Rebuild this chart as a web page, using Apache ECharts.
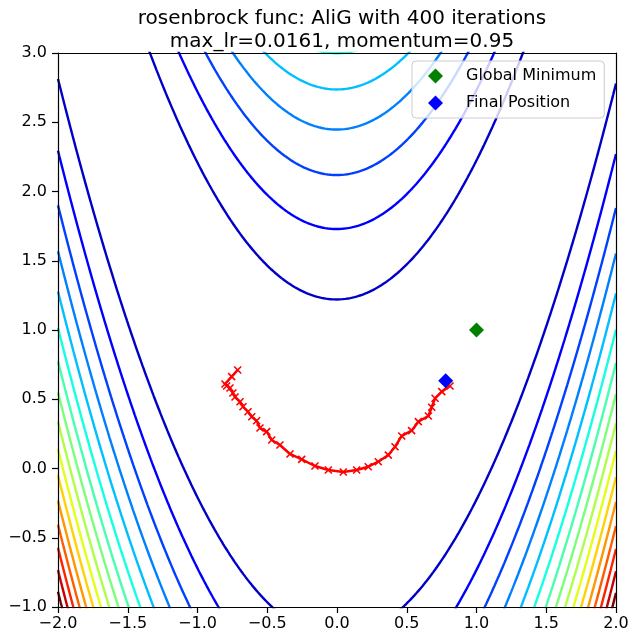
<!DOCTYPE html>
<html>
<head>
<meta charset="utf-8">
<script src="https://cdn.jsdelivr.net/npm/echarts@6/dist/echarts.min.js"></script>
<style>
  html, body { margin: 0; padding: 0; background: #fff; }
  #chart { width: 635px; height: 643px; }
</style>
</head>
<body>
<div id="chart"></div>
<script>
// contour levels of f(x, y) = (1 - x)^2 + 100 (y - x^2)^2
const levels = [150, 300, 450, 600, 750, 900, 1050, 1200, 1350, 1500, 1650, 1800, 1950, 2100, 2250, 2400];

// optimiser path
const pathX = [-0.712, -0.755, -0.803, -0.791, -0.767, -0.746, -0.731, -0.695, -0.674, -0.638, -0.611, -0.576,
  -0.552, -0.504, -0.468, -0.409, -0.337, -0.253, -0.158, -0.062, 0.045, 0.141, 0.224, 0.296, 0.368,
  0.416, 0.464, 0.535, 0.583, 0.655, 0.679, 0.703, 0.751, 0.810];
const pathY = [0.711, 0.663, 0.610, 0.596, 0.581, 0.545, 0.516, 0.482, 0.446, 0.410, 0.374, 0.345,
  0.292, 0.266, 0.206, 0.170, 0.105, 0.066, 0.018, -0.011, -0.025, -0.011, 0.013, 0.049, 0.097,
  0.157, 0.235, 0.273, 0.338, 0.379, 0.442, 0.507, 0.555, 0.596];

const globalMin = [1.0, 1.0];
const finalPos = [0.779, 0.634];

const xTicks = [-2, 2];
const yTicks = [-1, 3];

// matplotlib jet
const jetData = {
  r: [[0, 0], [0.35, 0], [0.66, 1], [0.89, 1], [1, 0.5]],
  g: [[0, 0], [0.125, 0], [0.375, 1], [0.64, 1], [0.91, 0], [1, 0]],
  b: [[0, 0.5], [0.11, 1], [0.34, 1], [0.65, 0], [1, 0]]
};
function interp(seg, t) {
  for (let i = 1; i < seg.length; i++) {
    if (t <= seg[i][0]) {
      const a = seg[i - 1], b = seg[i];
      return a[1] + (b[1] - a[1]) * (t - a[0]) / (b[0] - a[0]);
    }
  }
  return seg[seg.length - 1][1];
}
function jet(t) {
  const c = k => Math.round(255 * interp(jetData[k], t));
  return 'rgb(' + c('r') + ',' + c('g') + ',' + c('b') + ')';
}

const minus = v => (v < 0 ? '\u2212' : '') + Math.abs(v).toFixed(1);

// level sets: y = x^2 +/- sqrt((L - (1 - x)^2) / 100)
const contourSeries = [];
levels.forEach(L => {
  const color = jet(L / 2400);
  [1, -1].forEach(sign => {
    const pts = [];
    for (let i = 0; i <= 800; i++) {
      const x = -2 + i * 0.005;
      const r = L - (1 - x) * (1 - x);
      if (r < 0) continue;
      pts.push([x, x * x + sign * Math.sqrt(r / 100)]);
    }
    contourSeries.push({
      type: 'line',
      data: pts,
      showSymbol: false,
      silent: true,
      clip: true,
      z: 2,
      lineStyle: { color: color, width: 2.4 },
      animation: false
    });
  });
});

const chart = echarts.init(document.getElementById('chart'));

const axisCommon = {
  type: 'value',
  splitLine: { show: false },
  axisLine: { show: true, onZero: false, lineStyle: { color: '#000', width: 1.2 } },
  axisTick: { show: true, inside: false, length: 6, lineStyle: { color: '#000', width: 1.2 } },
  axisLabel: { color: '#000', fontSize: 16, fontFamily: 'DejaVu Sans', formatter: minus },
  z: 10
};

chart.setOption({
  animation: false,
  backgroundColor: '#fff',
  title: {
    text: 'rosenbrock func: AliG with 400 iterations\nmax_lr=0.0161, momentum=0.95',
    left: 337,
    top: 2,
    textAlign: 'center',
    textStyle: { fontFamily: 'DejaVu Sans', fontSize: 20, fontWeight: 'normal', color: '#000', lineHeight: 23 }
  },
  legend: {
    data: ['Global Minimum', 'Final Position'],
    orient: 'vertical',
    left: 412,
    top: 61,
    padding: [7, 8, 7, 16],
    itemGap: 11,
    itemWidth: 15,
    itemHeight: 15,
    icon: 'diamond',
    backgroundColor: 'rgba(255,255,255,0.8)',
    borderColor: '#cccccc',
    borderWidth: 1,
    borderRadius: 4,
    textStyle: { fontFamily: 'DejaVu Sans', fontSize: 16, color: '#000', padding: [0, 0, 0, 18] }
  },
  grid: { left: 58, right: 19, top: 53, bottom: 36 },
  xAxis: [
    Object.assign({}, axisCommon, { min: xTicks[0], max: xTicks[1], interval: 0.5, position: 'bottom',
      axisLabel: Object.assign({}, axisCommon.axisLabel, { margin: 9 }) }),
    Object.assign({}, axisCommon, { min: xTicks[0], max: xTicks[1], interval: 0.5, position: 'top',
      axisTick: { show: false }, axisLabel: { show: false } })
  ],
  yAxis: [
    Object.assign({}, axisCommon, { min: yTicks[0], max: yTicks[1], interval: 0.5, position: 'left',
      axisLabel: Object.assign({}, axisCommon.axisLabel, { margin: 11 }) }),
    Object.assign({}, axisCommon, { min: yTicks[0], max: yTicks[1], interval: 0.5, position: 'right',
      axisTick: { show: false }, axisLabel: { show: false } })
  ],
  series: contourSeries.concat([
    {
      name: 'path',
      type: 'line',
      data: pathX.map((x, i) => [x, pathY[i]]),
      symbol: 'path://M0,0L10,10M10,0L0,10',
      symbolSize: 7,
      showSymbol: true,
      z: 3,
      lineStyle: { color: '#ff0000', width: 2.5 },
      itemStyle: { color: '#ff0000', borderColor: '#ff0000', borderWidth: 1.6 }
    },
    {
      name: 'Global Minimum',
      type: 'scatter',
      data: [globalMin],
      symbol: 'diamond',
      symbolSize: 15,
      z: 4,
      itemStyle: { color: '#008000', opacity: 1 }
    },
    {
      name: 'Final Position',
      type: 'scatter',
      data: [finalPos],
      symbol: 'diamond',
      symbolSize: 15,
      z: 4,
      itemStyle: { color: '#0000ff', opacity: 1 }
    }
  ])
});
</script>
</body>
</html>
